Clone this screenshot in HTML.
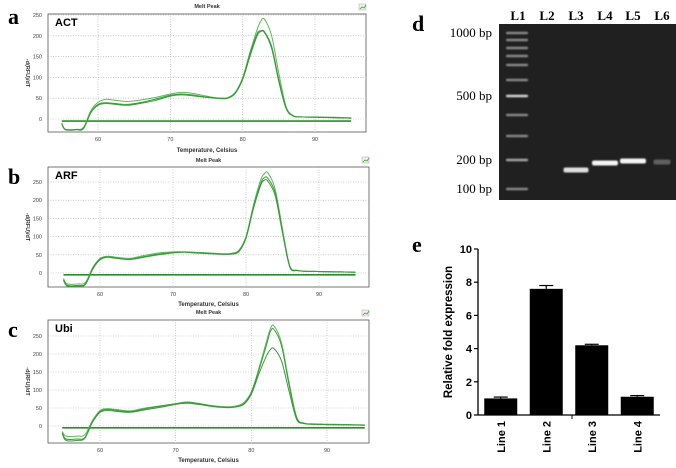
<!DOCTYPE html>
<html><head><meta charset="utf-8"><style>
html,body{margin:0;padding:0;background:#fff;}
body{width:676px;height:468px;overflow:hidden;font-family:"Liberation Sans",sans-serif;}
svg{display:block;}
</style></head><body>
<svg id="fig" width="676" height="468" viewBox="0 0 676 468" xmlns="http://www.w3.org/2000/svg">
<defs><filter id="blur" x="-20%" y="-100%" width="140%" height="300%"><feGaussianBlur stdDeviation="0.7"/></filter></defs>
<g id="melt"></g>
<g id="gel"></g>
<g id="bars"></g>
</svg>
<script>
const NS="http://www.w3.org/2000/svg";
// ---- Melt curve data ----
const meltTemps=[55,55.5,57,58,59,60,61,62,64,66,68,70,71.5,73,75,77,78,79,80,81,82,82.5,83,84,85,86,87,88,90,93,95];
const actT1=[-10,-25,-25,-20,20,40,47,46,42,46,52,60,64,62,55,50,52,65,100,160,215,235,240,200,110,30,8,5,5,4,3];
const actT2=[-10,-25,-25,-22,15,33,37,36,33,38,45,55,58,56,52,49,50,62,95,150,200,210,208,170,90,25,7,5,4,3,2];
const actT3=[-12,-26,-26,-23,16,35,39,38,35,40,48,57,60,58,53,50,51,63,97,155,205,212,210,175,95,27,7,5,4,3,2];
const arfT1=[-15,-30,-30,-26,15,40,46,44,40,48,55,58,58,57,55,53,54,62,100,185,255,272,275,230,120,20,8,5,4,3,2];
const arfT2=[-18,-34,-34,-30,12,38,44,42,38,45,52,56,58,56,54,52,53,60,98,180,245,262,260,220,115,18,7,5,4,3,2];
const arfT3=[-20,-36,-36,-32,10,36,43,41,37,43,50,55,57,55,53,51,52,58,95,175,240,255,252,212,110,16,7,5,4,3,2];
const ubiT1=[-15,-28,-28,-24,15,43,48,46,42,50,56,62,67,63,56,53,56,65,95,160,235,270,278,230,120,25,8,6,5,4,3];
const ubiT2=[-18,-36,-36,-32,12,40,46,44,40,48,55,62,65,62,55,52,54,62,92,155,225,262,268,222,112,22,7,5,4,3,2];
const ubiT3=[-20,-40,-40,-34,10,38,43,41,38,45,52,60,63,60,54,51,53,60,88,145,195,212,215,180,95,18,7,5,4,3,2];
const meltYTicks=[0,50,100,150,200,250];
const meltXTicks=[60,70,80,90];
const panels=[
 {key:'a',name:'ACT',traces:[actT1,actT2,actT3],x0:48,x1:366,y0:14,y1:132,t60:98,t90:315,v0:119,v250:15,letterY:24,titleY:8,xlabY:152},
 {key:'b',name:'ARF',traces:[arfT1,arfT2,arfT3],x0:48,x1:369,y0:167,y1:287,t60:100,t90:319,v0:273,v250:182,letterY:184,titleY:162,xlabY:306},
 {key:'c',name:'Ubi',traces:[ubiT1,ubiT2,ubiT3],x0:48,x1:369,y0:320,y1:443,t60:100,t90:327,v0:426,v250:336,letterY:337,titleY:314,xlabY:462}
];
function mk(tag,attrs,parent,txt){const e=document.createElementNS(NS,tag);for(const k in attrs)e.setAttribute(k,attrs[k]);if(txt!==undefined)e.textContent=txt;parent.appendChild(e);return e;}
function smooth(pts){
 let d='M'+pts[0][0].toFixed(1)+','+pts[0][1].toFixed(1);
 for(let i=0;i<pts.length-1;i++){
  const p0=pts[Math.max(0,i-1)],p1=pts[i],p2=pts[i+1],p3=pts[Math.min(pts.length-1,i+2)];
  const c1x=p1[0]+(p2[0]-p0[0])/6,c1y=p1[1]+(p2[1]-p0[1])/6;
  const c2x=p2[0]-(p3[0]-p1[0])/6,c2y=p2[1]-(p3[1]-p1[1])/6;
  d+=`C${c1x.toFixed(1)},${c1y.toFixed(1)} ${c2x.toFixed(1)},${c2y.toFixed(1)} ${p2[0].toFixed(1)},${p2[1].toFixed(1)}`;
 }
 return d;
}
const melt=document.getElementById('melt');
panels.forEach(p=>{
 const g=mk('g',{},melt);
 
 
 const xs=t=>p.t60+(t-60)*(p.t90-p.t60)/30;
 const ys=v=>p.v0-(v)*(p.v0-p.v250)/250;
 const L=mk('text',{x:8,y:p.letterY,'font-family':'Liberation Serif,serif','font-size':22,'font-weight':'bold'},g,p.key);
 
 
 const T=mk('text',{x:(p.x0+p.x1)/2,y:p.titleY,'font-size':5.5,'font-weight':'bold','text-anchor':'middle',fill:'#333'},g,'Melt Peak');
 
 
 const ic=mk('rect',{x:p.x1-7,y:p.y0-10,width:7,height:6,fill:'#eee',stroke:'#aaa','stroke-width':0.5},g);
 
 
 mk('path',{d:`M${p.x1-6},${p.y0-5} l2,-2 l2,1 l2,-3`,stroke:'#3a3',fill:'none','stroke-width':0.8},g);
 const fr=mk('rect',{x:p.x0,y:p.y0,width:p.x1-p.x0,height:p.y1-p.y0,fill:'#fff',stroke:'#555','stroke-width':0.8},g);
 
 
 meltYTicks.forEach(v=>{
  const y=ys(v);
  mk('line',{x1:p.x0,x2:p.x1,y1:y,y2:y,stroke:'#aaa','stroke-width':0.6,'stroke-dasharray':'1,1.5'},g);
  const t=mk('text',{x:p.x0-6,y:y+2,'font-size':5.5,'text-anchor':'end',fill:'#444'},g,v);
  
  
 });
 meltXTicks.forEach(v=>{
  const x=xs(v);
  mk('line',{x1:x,x2:x,y1:p.y0,y2:p.y1,stroke:'#aaa','stroke-width':0.6,'stroke-dasharray':'1,1.5'},g);
  const t=mk('text',{x:x,y:p.y1+9,'font-size':5.5,'text-anchor':'middle',fill:'#444'},g,v);
  
  
 });
 const xl=mk('text',{x:(p.x0+p.x1)/2,y:p.xlabY,'font-size':6,'font-weight':'bold','text-anchor':'middle',fill:'#333'},g,'Temperature, Celsius');
 
 
 const cy=(p.y0+p.y1)/2;
 const yl=mk('text',{x:26,y:cy,'font-size':5.5,'font-weight':'bold','text-anchor':'middle',fill:'#333',transform:`rotate(90 26 ${cy})`},g,'-d(RFU)/dT');
 
 
 const gn=mk('text',{x:p.x0+7,y:p.y0+12,'font-size':11,'font-weight':'bold'},g,p.name);
 
 
 const bl=mk('line',{x1:xs(55),x2:xs(95),y1:ys(-5),y2:ys(-5),stroke:'#2e8b2e','stroke-width':1.6},g);
 
 
 p.traces.forEach((tr,i)=>{
  const pts=meltTemps.map((t,j)=>[xs(t),ys(tr[j])]);
  const pa=mk('path',{d:smooth(pts),fill:'none',stroke:i==0?'#5cb85c':'#3a9a3a','stroke-width':1,'stroke-linejoin':'round'},g);
  
  
 });
});
// ---- Gel ----
const gel=document.getElementById('gel');
const laneNames=['L1','L2','L3','L4','L5','L6'];
const laneX=[518,547,576,605,633,662];
const sizeLabels=['1000 bp','500 bp','200 bp','100 bp'];
const sizeY=[37,100,164,193];
const ladderY=[33,40,48,56,65,80,96,115,136,160,189];
const sampleBands=[{lane:2,y:170,w:25,o:0.9},{lane:3,y:163,w:26,o:1},{lane:4,y:161,w:26,o:1},{lane:5,y:162,w:17,o:0.3}];
mk('rect',{x:499,y:24,width:177,height:176,fill:'#202020'},gel);
let dl=mk('text',{x:412,y:31,'font-family':'Liberation Serif,serif','font-size':22,'font-weight':'bold'},gel,'d');


laneNames.forEach((n,i)=>{const t=mk('text',{x:laneX[i],y:20,'font-family':'Liberation Serif,serif','font-size':13,'font-weight':'bold','text-anchor':'middle'},gel,n);
 
 });
sizeLabels.forEach((s,i)=>{const t=mk('text',{x:492,y:sizeY[i],'font-family':'Liberation Serif,serif','font-size':13,'text-anchor':'end'},gel,s);
 
 });
ladderY.forEach((y,i)=>{const b=mk('rect',{x:506,y:y-1.2,width:22,height:2.4,fill:'#ddd',opacity:(i==6)?0.95:(i==9?0.7:0.55),rx:1,filter:'url(#blur)'},gel);
 
 });
sampleBands.forEach(s=>{const b=mk('rect',{x:laneX[s.lane]-s.w/2,y:s.y-2.5,width:s.w,height:5,fill:'#f4f4f4',opacity:s.o,rx:2,filter:'url(#blur)'},gel);
 
 });
// ---- Bar chart ----
const bars=document.getElementById('bars');
const barCats=['Line 1','Line 2','Line 3','Line 4'];
const barVals=[1.0,7.6,4.2,1.1];
const barErr=[0.08,0.2,0.06,0.07];
const barTicks=[0,2,4,6,8,10];
const bx0=478,bx1=660,by0=415,by10=249;
const by=v=>by0-v*(by0-by10)/10;
const bandW=(bx1-bx0)/4;
const bx=i=>bx0+bandW*(i+0.5);
let el=mk('text',{x:412,y:252,'font-family':'Liberation Serif,serif','font-size':22,'font-weight':'bold'},bars,'e');


mk('line',{x1:bx0,x2:bx0,y1:by10,y2:by0,stroke:'#000','stroke-width':1.3},bars);
mk('line',{x1:bx0,x2:bx1,y1:by0,y2:by0,stroke:'#000','stroke-width':1.3},bars);
mk('line',{x1:572,x2:572,y1:by0,y2:by0+4,stroke:'#000','stroke-width':1},bars);
barTicks.forEach(v=>{mk('line',{x1:bx0-4,x2:bx0,y1:by(v),y2:by(v),stroke:'#000','stroke-width':1.2},bars);
 const t=mk('text',{x:bx0-6,y:by(v)+4,'font-size':11,'font-weight':'bold','text-anchor':'end'},bars,v);
 
 });
barCats.forEach((c,i)=>{
 const cx=bx(i), w=33;
 const r=mk('rect',{x:cx-w/2,y:by(barVals[i]),width:w,height:by0-by(barVals[i]),fill:'#000'},bars);
 
 
 const ey=by(barVals[i]+barErr[i]);
 mk('line',{x1:cx,x2:cx,y1:ey,y2:by(barVals[i]),stroke:'#000','stroke-width':1.2},bars);
 mk('line',{x1:cx-7,x2:cx+7,y1:ey,y2:ey,stroke:'#000','stroke-width':1.2},bars);
 const t=mk('text',{x:cx+4,y:by0+6,'font-size':11,'font-weight':'bold','text-anchor':'end',transform:`rotate(-90 ${cx+4} ${by0+6})`},bars,c);
 
 
});
let yt=mk('text',{x:452,y:332,'font-size':11.5,'font-weight':'bold','text-anchor':'middle',transform:'rotate(-90 452 332)'},bars,'Relative fold expression');


</script>
</body></html>
